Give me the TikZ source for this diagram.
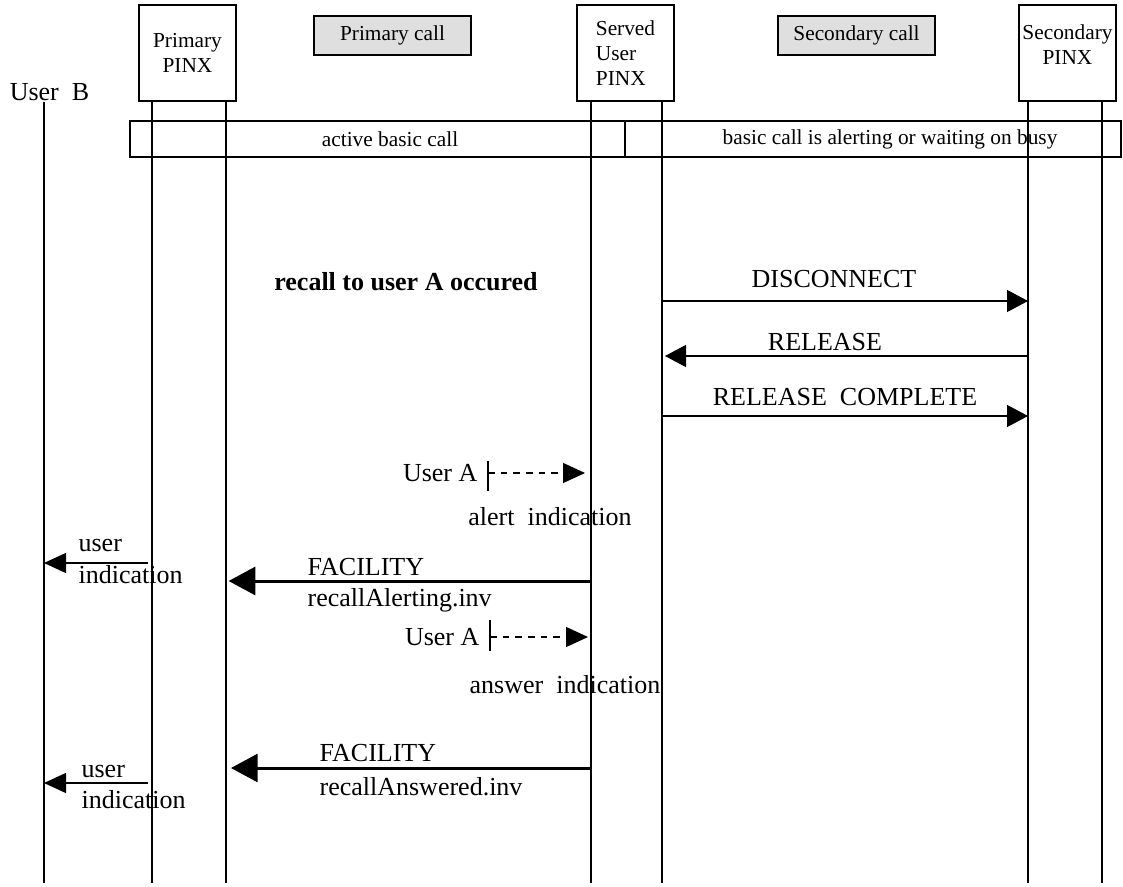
\documentclass[tikz,border=0pt]{standalone}
\usepackage{fontspec}
\setmainfont{Liberation Serif}
\usetikzlibrary{arrows.meta,positioning}

\tikzset{
  big/.style={font=\fontsize{19.5}{23}\selectfont},
  small/.style={font=\fontsize{16}{18.5}\selectfont},
  pinx/.style={draw, line width=1.5pt, small, minimum width=72.75pt, minimum height=72pt, inner sep=1pt},
  callbox/.style={draw, line width=1.5pt, fill=gray!25, small, minimum width=117.75pt, minimum height=29.25pt},
  bar/.style={draw, line width=1.5pt, minimum height=27pt, inner sep=0pt},
  life/.style={line width=1.5pt},
  msg/.style={line width=0.9pt, -{Triangle[length=15.75pt,width=16.5pt]}},
  fac/.style={line width=2.25pt, -{Triangle[length=20pt,width=21pt]}},
  ind/.style={line width=0.9pt, -{Triangle[length=16.5pt,width=15pt]}},
  usera/.style={line width=0.9pt, dash pattern=on 5pt off 4.5pt, -{Triangle[length=16.5pt,width=15pt]}},
  tick/.style={line width=0.9pt}
}

\begin{document}
\begin{tikzpicture}[x=0.75pt, y=-0.75pt, big, every node/.append style={inner sep=1pt}]
\useasboundingbox (0,0) rectangle (1123,887);

% entities
\node[pinx, align=center] (prim) at (187.5,53)  {Primary\\PINX};
\node[pinx, align=left]   (serv) at (625.5,53)  {Served\\User\\PINX};
\node[pinx, align=center] (sec)  at (1067.5,53) {Secondary\\PINX\\[-6pt]};
\node[callbox] (pcall) at (392.5,35.5) {Primary call};
\node[callbox] (scall) at (856.5,35.5) {Secondary call};
\node (userB) at (49.5,92) {User\ \ B};

% call states
\node[bar, minimum width=371.25pt, label={[small, xshift=9.4pt]center:active basic call}] (actcall) at (377.5,139) {};
\node[bar, minimum width=372pt, label={[small, xshift=12.75pt]center:basic call is alerting or waiting on busy}] (altcall) at (873,139) {};

% lifelines
\coordinate (ub)  at (44,883);
\coordinate (ppL) at (152,883);
\coordinate (ppR) at (226,883);
\coordinate (suL) at (591,883);
\coordinate (suR) at (662,883);
\coordinate (spL) at (1028,883);
\coordinate (spR) at (1102,883);
\draw[life] (userB.south -| ub) -- (ub);
\draw[life] (prim.south -| ppL) -- (ppL);
\draw[life] (prim.south -| ppR) -- (ppR);
\draw[life] (serv.south -| suL) -- (suL);
\draw[life] (serv.south -| suR) -- (suR);
\draw[life] (sec.south -| spL) -- (spL);
\draw[life] (sec.south -| spR) -- (spR);

% message rows
\coordinate (disc) at (0,301);
\coordinate (rel)  at (0,356);
\coordinate (relc) at (0,416);
\coordinate (ua1)  at (488,473);
\coordinate (ui1)  at (0,563);
\coordinate (fac1) at (0,581);
\coordinate (ua2)  at (490,637);
\coordinate (fac2) at (0,768);
\coordinate (ui2)  at (0,783);

\node[font=\fontsize{19.5}{23}\selectfont\bfseries] (recall) at (406,282) {recall to user A occured};

\draw[msg] (suR |- disc) -- (spL |- disc);
\node (discT) at (834,279) {DISCONNECT};
\draw[msg, shorten >=2.25pt] (spL |- rel) -- (suR |- rel);
\node (relT) at (825,342) {RELEASE};
\draw[msg] (suR |- relc) -- (spL |- relc);
\node (relcT) at (845,397) {RELEASE\ \ COMPLETE};

\node[anchor=east] (userA1) at (479,473) {User A};
\draw[tick] ([yshift=9pt]ua1) -- ([yshift=-13.5pt]ua1);
\draw[usera, shorten >=4.5pt] (ua1) -- (suL |- ua1);
\node (alertT) at (550,517) {alert\ \ indication};

\draw[fac, shorten >=2pt] (suL |- fac1) -- (ppR |- fac1);
\node[anchor=west] (facT1) at (306,567) {FACILITY};
\node[anchor=west] (invT1) at (306,600) {recallAlerting.inv};
\draw[ind, shorten <=3pt] (ppL |- ui1) -- (ub |- ui1);
\node[anchor=west] (userT1) at (77,545) {user};
\node[anchor=west] (indT1) at (77,575) {indication};

\node[anchor=east] (userA2) at (481,637) {User A};
\draw[tick] ([yshift=12.75pt]ua2) -- ([yshift=-10.5pt]ua2);
\draw[usera, shorten >=2.25pt] (ua2) -- (suL |- ua2);
\node (answerT) at (565,685) {answer\ \ indication};

\draw[fac, shorten >=3.75pt] (suL |- fac2) -- (ppR |- fac2);
\node[anchor=west] (facT2) at (318,753) {FACILITY};
\node[anchor=west] (invT2) at (318,787) {recallAnswered.inv};
\draw[ind, shorten <=3pt] (ppL |- ui2) -- (ub |- ui2);
\node[anchor=west] (userT2) at (80,771) {user};
\node[anchor=west] (indT2) at (80,800) {indication};
\end{tikzpicture}
\end{document}
